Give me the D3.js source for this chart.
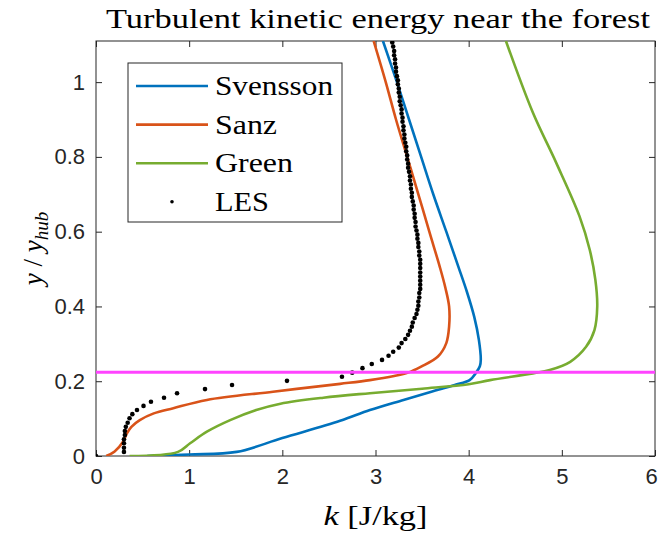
<!DOCTYPE html>
<html>
<head>
<meta charset="utf-8">
<script src="https://cdn.jsdelivr.net/npm/d3@7"></script>
<style>
  body { margin: 0; background: #fff; }
  svg { display: block; }
</style>
</head>
<body>
<svg id="chart"></svg>
<script>
// Datos: [k, y/y_hub]
const svensson = [[0.55,0],[1.0,0.004],[1.51,0.011],[2.0,0.048],[2.62,0.094],[2.94,0.123],
  [3.3,0.15],[3.6,0.172],[3.85,0.19],[4.01,0.203],[4.08,0.223],[4.12,0.24],[4.13,0.257],
  [4.11,0.31],[4.06,0.372],[3.98,0.44],[3.89,0.506],[3.76,0.60],[3.62,0.70],[3.49,0.80],
  [3.36,0.90],[3.23,1.0],[3.08,1.11]];

const sanz = [[0.11,0],[0.20,0.012],[0.29,0.038],[0.33,0.06],[0.38,0.078],[0.47,0.096],
  [0.62,0.114],[0.83,0.128],[1.19,0.15],[1.9,0.172],[2.62,0.193],[2.94,0.203],[3.2,0.214],
  [3.35,0.223],[3.49,0.239],[3.67,0.266],[3.76,0.302],[3.79,0.346],[3.79,0.40],[3.75,0.45],
  [3.69,0.506],[3.58,0.598],[3.46,0.70],[3.34,0.80],[3.22,0.90],[3.11,1.0],[2.98,1.11]];

const green = [[0.36,0],[0.88,0.011],[1.01,0.034],[1.19,0.065],[1.44,0.096],[1.72,0.123],
  [1.98,0.14],[2.44,0.156],[2.94,0.168],[3.5,0.18],[4.0,0.192],[4.23,0.203],[4.69,0.221],
  [4.87,0.23],[5.09,0.252],[5.26,0.292],[5.35,0.337],[5.38,0.40],[5.36,0.471],[5.30,0.551],
  [5.19,0.641],[4.94,0.784],[4.69,0.918],[4.40,1.11]];

const les = [
  [0,0],[0.30,0.011],[0.30,0.022],[0.30,0.034],[0.30,0.045],[0.31,0.056],[0.31,0.067],[0.32,0.078],[0.34,0.089],[0.36,0.101],
  [0.39,0.112],[0.44,0.123],[0.51,0.134],[0.59,0.145],[0.73,0.156],[0.87,0.168],[1.17,0.179],[1.46,0.190],[2.05,0.201],[2.64,0.212],
  [2.75,0.223],[2.86,0.235],[2.96,0.246],[3.07,0.257],[3.14,0.268],[3.19,0.279],[3.25,0.290],[3.28,0.302],[3.32,0.313],[3.35,0.324],
  [3.37,0.335],[3.39,0.346],[3.40,0.357],[3.42,0.369],[3.44,0.380],[3.45,0.391],[3.46,0.402],[3.46,0.413],[3.47,0.424],[3.47,0.436],
  [3.48,0.447],[3.48,0.458],[3.48,0.469],[3.48,0.480],[3.48,0.491],[3.48,0.503],[3.48,0.514],[3.48,0.525],[3.47,0.536],[3.47,0.547],
  [3.46,0.559],[3.46,0.570],[3.45,0.581],[3.45,0.592],[3.44,0.603],[3.43,0.614],[3.43,0.626],[3.42,0.637],[3.42,0.648],[3.41,0.659],
  [3.41,0.670],[3.40,0.681],[3.39,0.693],[3.39,0.704],[3.38,0.715],[3.38,0.726],[3.37,0.737],[3.37,0.748],[3.36,0.760],[3.35,0.771],
  [3.35,0.782],[3.34,0.793],[3.34,0.804],[3.33,0.815],[3.33,0.827],[3.32,0.838],[3.31,0.849],[3.31,0.860],[3.30,0.871],[3.30,0.882],
  [3.29,0.894],[3.29,0.905],[3.28,0.916],[3.28,0.927],[3.27,0.938],[3.26,0.949],[3.26,0.961],[3.25,0.972],[3.25,0.983],[3.24,0.994],
  [3.24,1.005],[3.23,1.016],[3.22,1.028],[3.22,1.039],[3.21,1.050],[3.21,1.061],[3.20,1.072],[3.20,1.083],[3.19,1.095],[3.18,1.106]];

const hubLine = 0.224;

const xTicks = [0, 1, 2, 3, 4, 5, 6];
const xTickLabels = ["0", "1", "2", "3", "4", "5", "6"];
const yTicks = [0, 0.2, 0.4, 0.6, 0.8, 1];
const yTickLabels = ["0", "0.2", "0.4", "0.6", "0.8", "1"];

const series = [
  { name: "Svensson", data: svensson, color: "#0072BD" },
  { name: "Sanz", data: sanz, color: "#D95319" },
  { name: "Green", data: green, color: "#77AC30" }
];

const serif = "'Liberation Serif', 'DejaVu Serif', serif";
const sans = "'Liberation Sans', Arimo, Arial, sans-serif";

const W = 660, H = 538;
const margin = { top: 41, right: 5, bottom: 82, left: 96 };
const width = W - margin.left - margin.right;
const height = H - margin.top - margin.bottom;

const svg = d3.select("#chart").attr("width", W).attr("height", H);

const x = d3.scaleLinear().domain([0, 6]).range([0, width]);
const y = d3.scaleLinear().domain([0, 1.11]).range([height, 0]);

const g = svg.append("g").attr("transform", `translate(${margin.left},${margin.top})`);

g.append("defs").append("clipPath").attr("id", "clip")
  .append("rect").attr("width", width).attr("height", height);

// Ejes con marcas hacia dentro (estilo MATLAB)
const axisColor = "#262626";
function styleAxis(sel) {
  sel.attr("font-family", null).attr("font-size", null);
  sel.select(".domain").remove();
  sel.selectAll(".tick line").attr("stroke", axisColor);
  sel.selectAll(".tick text")
    .style("font-family", sans).style("font-size", "22px").attr("fill", axisColor);
}

const xAxisG = g.append("g").attr("transform", `translate(0,${height})`)
  .call(d3.axisBottom(x).tickValues(xTicks).tickFormat((d, i) => xTickLabels[i]).tickSize(-6).tickPadding(12))
  .call(styleAxis);
// el último rótulo se desplaza un poco para que quepa en el borde
xAxisG.selectAll(".tick text").filter(d => d === 6).attr("dx", -4);

g.append("g")
  .call(d3.axisLeft(y).tickValues(yTicks).tickFormat((d, i) => yTickLabels[i]).tickSize(-6).tickPadding(11))
  .call(styleAxis);

g.append("g")
  .call(d3.axisTop(x).tickValues(xTicks).tickFormat("").tickSize(-6))
  .call(styleAxis);

g.append("g").attr("transform", `translate(${width},0)`)
  .call(d3.axisRight(y).tickValues(yTicks).tickFormat("").tickSize(-6))
  .call(styleAxis);

g.append("rect").attr("width", width).attr("height", height)
  .attr("fill", "none").attr("stroke", axisColor).attr("stroke-width", 1);

// Curvas
const line = d3.line().x(d => x(d[0])).y(d => y(d[1])).curve(d3.curveCatmullRom.alpha(0.5));
const plot = g.append("g").attr("clip-path", "url(#clip)");

series.forEach(s => {
  plot.append("path").datum(s.data)
    .attr("d", line)
    .attr("fill", "none")
    .attr("stroke", s.color)
    .attr("stroke-width", 2.6)
    .attr("stroke-linejoin", "round");
});

plot.selectAll(".les").data(les).enter().append("circle")
  .attr("class", "les")
  .attr("cx", d => x(d[0])).attr("cy", d => y(d[1]))
  .attr("r", 2.3).attr("fill", "#000");

plot.append("line")
  .attr("x1", 0).attr("x2", width)
  .attr("y1", y(hubLine)).attr("y2", y(hubLine))
  .attr("stroke", "#ff44ff").attr("stroke-width", 3);

// Título y etiquetas
svg.append("text")
  .attr("x", 378).attr("y", 28).attr("text-anchor", "middle")
  .attr("textLength", 544).attr("lengthAdjust", "spacingAndGlyphs")
  .style("font-family", serif).style("font-size", "27px")
  .text("Turbulent kinetic energy near the forest");

const xl = svg.append("text")
  .attr("x", margin.left + width / 2).attr("y", 525).attr("text-anchor", "middle")
  .attr("textLength", 104).attr("lengthAdjust", "spacingAndGlyphs")
  .style("font-family", serif).style("font-size", "28px");
xl.append("tspan").style("font-style", "italic").text("k");
xl.append("tspan").text(" [J/kg]");

const yl = svg.append("text")
  .attr("transform", `translate(42,${margin.top + height / 2}) rotate(-90)`)
  .attr("text-anchor", "middle")
  .style("font-family", serif).style("font-size", "27px");
yl.append("tspan").style("font-style", "italic").text("y");
yl.append("tspan").text(" / ");
yl.append("tspan").style("font-style", "italic").text("y");
yl.append("tspan").style("font-style", "italic").style("font-size", "19px").attr("dy", 6).text("hub");

// Leyenda
const legend = svg.append("g").attr("transform", "translate(128,63)");
legend.append("rect").attr("width", 214).attr("height", 159)
  .attr("fill", "#fff").attr("stroke", axisColor).attr("stroke-width", 1);

const legendItems = series.concat([{ name: "LES", color: "#000", dot: true }]);
const textWidths = [118, 62, 78, 54];
legendItems.forEach((s, i) => {
  const cy = 23 + i * 38.6;
  if (s.dot) {
    legend.append("circle").attr("cx", 44).attr("cy", cy).attr("r", 1.8).attr("fill", "#000");
  } else {
    legend.append("line").attr("x1", 8).attr("x2", 80).attr("y1", cy).attr("y2", cy)
      .attr("stroke", s.color).attr("stroke-width", 2.6);
  }
  legend.append("text")
    .attr("x", 87).attr("y", cy + 9)
    .attr("textLength", textWidths[i]).attr("lengthAdjust", "spacingAndGlyphs")
    .style("font-family", serif).style("font-size", "27px")
    .text(s.name);
});
</script>
</body>
</html>
